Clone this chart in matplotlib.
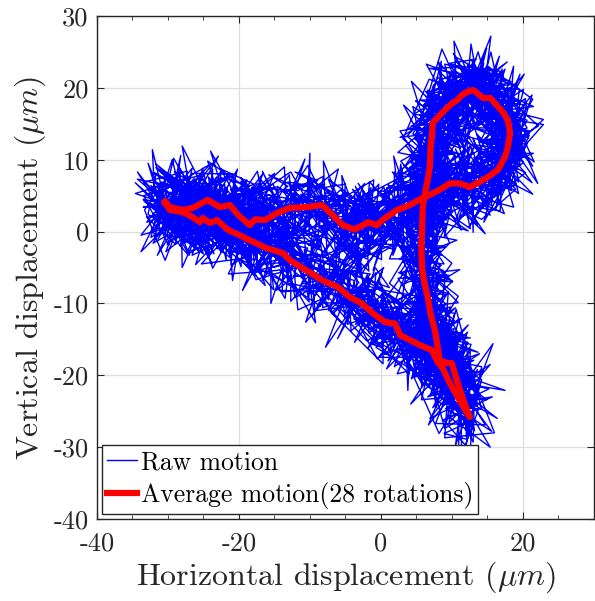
import matplotlib
matplotlib.use('Agg')
import matplotlib.pyplot as plt
import numpy as np

plt.rcParams['font.family'] = 'cmr10'
plt.rcParams['mathtext.fontset'] = 'cm'
plt.rcParams['axes.unicode_minus'] = False

# average motion path (um)
avg_x = [-30.4, -29.7, -27.9, -26.5, -24.4, -22.7, -21.3, -20.1, -18.5, -17.7, -16.3, -14.6,
         -12.8, -10.4, -8.3, -6.8, -5.4, -3.7, -2.7, -1.8, -0.6, 0.6, 2.3, 4.1, 5.9, 7.3, 8.6,
         9.7, 11.1, 12.5, 13.9, 15.1, 16.5, 17.0, 17.5, 17.9, 18.2, 17.9, 17.2, 16.3, 15.4, 14.4,
         13.0, 12.1, 11.4, 10.8, 10.1, 9.0, 8.3, 7.3, 7.2, 7.0, 6.9, 6.6, 6.2, 5.9, 5.8, 5.7,
         5.8, 6.1, 6.6, 7.0, 7.6, 8.0, 8.3, 9.3, 10.0, 10.7, 11.5, 12.5,
         11.1, 9.7, 8.7, 8.0, 7.2, 5.5, 4.1, 2.7, 2.0, 0.6, -1.1, -2.7, -4.4, -6.1, -8.2, -10.0,
         -12.8, -13.8, -16.1, -18.5, -19.9, -21.5, -23.1, -24.1, -25.1, -25.5, -26.5, -27.9,
         -29.7, -30.4]
avg_y = [4.2, 3.4, 3.0, 3.3, 4.4, 3.4, 3.7, 2.3, 0.9, 1.7, 1.6, 2.6,
         3.3, 3.4, 3.7, 2.3, 0.9, 0.3, 0.8, 1.3, 0.9, 1.9, 3.0, 3.7, 4.7, 5.3, 6.0,
         6.7, 6.7, 6.2, 6.9, 7.6, 8.6, 9.5, 10.4, 11.8, 13.7, 15.5, 16.6, 17.6, 18.6, 18.6,
         19.7, 19.4, 19.0, 18.3, 17.9, 16.9, 16.2, 15.1, 13.4, 11.8, 9.0, 7.2, 5.3, 3.4, 0.2, -2.5,
         -5.0, -7.0, -9.1, -11.5, -13.7, -16.0, -17.9, -18.3, -18.3, -20.7, -23.1, -25.8,
         -23.5, -21.1, -19.0, -18.2, -16.5, -15.8, -15.1, -14.4, -12.8, -12.6, -11.4, -10.0, -9.1, -7.7, -6.8, -5.7,
         -4.0, -3.0, -2.3, -1.2, -0.5, 0.2, 1.6, 1.2, 1.9, 1.3, 2.0, 2.7,
         3.0, 3.9]

# scatter of the raw samples around the average (um), estimated by eye
jit_x = [0.8, -1.7, 2.7, -0.5, 1.5, -3.0, 0.3, 3.9, -1.3, -2.2, 1.9, 0.6, -3.6, 1.1, 2.3, -1.5,
         -0.2, 3.1, -2.6, 0.8, -1.0, 4.3, -2.0, 0.1, 2.0, -3.4, 1.3, -0.4, 2.5, -1.5, -4.2, 1.7,
         0.5, -0.8, 3.4, -2.4, 1.0, -0.6, 1.5, -3.8, 2.2, 0.4, -1.8, 1.3, -1.2, 5.0, -2.7, 0.1,
         1.8, -0.7, -2.9, 2.4, 0.7, -1.7, 0.6, 3.5, -2.1, -0.3, 1.4, -4.6, 1.0, 2.7, -1.1, 0.2,
         -2.0, 2.9, -0.6]
jit_y = [-1.8, 3.2, 0.6, -4.4, 2.5, -0.2, 5.3, -2.7, 1.3, -3.6, 4.0, 0.8, -1.1, -5.8, 2.9, 1.7,
         -2.3, 6.4, -0.5, -3.1, 2.2, 0.0, -4.7, 3.7, 1.0, -1.5, 4.6, -2.0, -6.3, 2.0, 0.4, 3.0,
         -3.3, 1.5, -0.8, 7.5, -2.5, 0.9, -4.0, 2.7, 1.9, -1.3, 5.0, -3.8, 0.3, -2.2, 3.5, -0.6,
         -5.2, 2.4, 1.2, -1.7, 4.3, -2.9, 0.7, -7.0, 3.1, 1.6, -0.9, 2.3, -3.5, 5.8, -1.4, 0.1,
         -2.6, 3.9, 1.1, -4.2, 2.6, -0.3, 1.8]
n_rot = 28

x_ticks = [-40, -20, 0, 20]
x_tick_labels = ['-40', '-20', '0', '20']
y_ticks = [-40, -30, -20, -10, 0, 10, 20, 30]
y_tick_labels = ['-40', '-30', '-20', '-10', '0', '10', '20', '30']

raw_x, raw_y = [], []
for r in range(n_rot):
    for i in range(len(avg_x)):
        raw_x.append(avg_x[i] + jit_x[(i + 5 * r) % len(jit_x)])
        raw_y.append(avg_y[i] + jit_y[(3 * i + 11 * r) % len(jit_y)])

fig = plt.figure(figsize=(5.95, 6.01), dpi=100)
ax = fig.add_axes([0.163, 0.1364, 0.835, 0.837])

ax.plot(raw_x, raw_y, color='blue', lw=1.0, label='Raw motion')
ax.plot(avg_x, avg_y, color='red', lw=4.5, label='Average motion(28 rotations)')

ax.set_xlim(-40, 30)
ax.set_ylim(-40, 30)
ax.set_xticks(x_ticks)
ax.set_xticklabels(x_tick_labels)
ax.set_xticks(np.arange(-40, 31, 5), minor=True)
ax.set_yticks(y_ticks)
ax.set_yticklabels(y_tick_labels)
ax.grid(True, which='major', color='#dedede', lw=0.9)
ax.set_axisbelow(True)

ax.tick_params(which='both', direction='in', top=True, right=True, colors='#262626',
               labelsize=19, labelcolor='#262626')
ax.tick_params(which='major', length=5)
ax.tick_params(which='minor', length=3)
ax.tick_params(axis='x', pad=9)
ax.tick_params(axis='y', pad=6)
for s in ax.spines.values():
    s.set_color('#262626')
    s.set_linewidth(1.0)

ax.set_xlabel(r'Horizontal displacement $(\mu m)$', fontsize=23, color='#262626', labelpad=3)
ax.set_ylabel(r'Vertical displacement $(\mu m)$', fontsize=23, color='#262626', labelpad=4)

leg = ax.legend(loc='lower left', fontsize=18.5, fancybox=False, framealpha=1,
                edgecolor='#262626', borderaxespad=0.2, handlelength=1.15,
                handletextpad=0.15, borderpad=0.2, labelspacing=0.3)
leg.get_frame().set_linewidth(1.0)

fig.savefig('out.png', dpi=100)
